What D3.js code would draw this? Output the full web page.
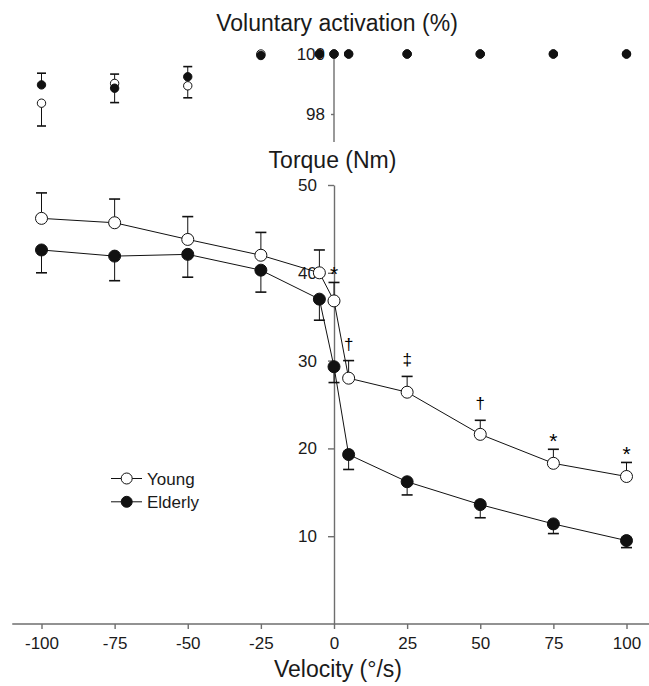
<!DOCTYPE html>
<html>
<head>
<meta charset="utf-8">
<script src="https://cdn.jsdelivr.net/npm/d3@7"></script>
<style>
  html, body { margin: 0; padding: 0; background: #fff; }
  svg { display: block; font-family: "Liberation Sans", Arial, sans-serif; }
  .axis path, .axis line { stroke: #6e6e6e; stroke-width: 1.4; }
  .axis text { font-size: 17px; fill: #1a1a1a; }
  .title { font-size: 23px; fill: #1a1a1a; text-anchor: middle; }
  .conn { fill: none; stroke: #111; stroke-width: 1; }
  .err { stroke: #111; stroke-width: 1; }
  .cap { stroke: #111; stroke-width: 1.6; }
  .mark { font-size: 17px; fill: #000; text-anchor: middle; }
  .mark.star { font-size: 21px; }
  .legend text { font-size: 17px; fill: #1a1a1a; }
</style>
</head>
<body>
<svg id="chart" width="649" height="686"></svg>
<script>
/* velocities (deg/s) shared by both panels */
const velocities = [-100, -75, -50, -25, -5, 0, 5, 25, 50, 75, 100];
const xTicks = [-100, -75, -50, -25, 0, 25, 50, 75, 100];

/* torque (Nm) means and one-sided SE (young drawn up, elderly drawn down) */
const youngTorque   = [46.2, 45.7, 43.8, 42.0, 40.0, 36.8, 28.0, 26.4, 21.6, 18.3, 16.8];
const youngTorqueSE = [2.9, 2.7, 2.6, 2.6, 2.6, 2.1, 2.0, 1.8, 1.6, 1.6, 1.6];
const elderlyTorque   = [42.6, 41.9, 42.1, 40.3, 37.0, 29.3, 19.3, 16.2, 13.6, 11.4, 9.5];
const elderlyTorqueSE = [2.6, 2.8, 2.6, 2.5, 2.4, 1.8, 1.7, 1.5, 1.5, 1.1, 0.8];
const torqueTicks = [10, 20, 30, 40, 50];

/* voluntary activation (%) with signed one-sided SE (0 = no bar) */
const youngAct   = [98.36, 99.02, 98.94, 100, 100, 100, 100, 100, 100, 100, 100];
const youngActSE = [-0.76, 0.31, -0.40, 0, 0, 0, 0, 0, 0, 0, 0];
const elderlyAct   = [98.97, 98.86, 99.24, 99.95, 100, 100, 100, 100, 100, 100, 100];
const elderlyActSE = [0.39, -0.48, 0.34, 0, 0, 0, 0, 0, 0, 0, 0];
const actTicks = [98, 100];

/* significance markers above young torque */
const sigVelocity = [0, 5, 25, 50, 75, 100];
const sigSymbol   = ["*", "\u2020", "\u2021", "\u2020", "*", "*"];

const groups = [
  { name: "Young",   torque: youngTorque,   se: youngTorqueSE,   dir: -1, act: youngAct,   actSE: youngActSE,   fill: "#fff" },
  { name: "Elderly", torque: elderlyTorque, se: elderlyTorqueSE, dir:  1, act: elderlyAct, actSE: elderlyActSE, fill: "#111" },
];

const svg = d3.select("#chart");

const x  = d3.scaleLinear().domain([-100, 100]).range([41.5, 626.5]);
const yT = d3.scaleLinear().domain([0, 50]).range([624, 185]);
const yA = d3.scaleLinear().domain([98, 100]).range([114, 54]);

const plain = d => String(d);   /* hyphen minus, no decimals */

/* ---------- axes ---------- */
const xAxis = svg.append("g")
  .attr("class", "axis")
  .attr("transform", `translate(0,${yT(0)})`)
  .call(d3.axisBottom(x).tickValues(xTicks).tickFormat(plain)
    .tickSize(5).tickSizeOuter(0).tickPadding(8));
xAxis.select(".domain").remove();
xAxis.append("line")
  .attr("x1", x(-110)).attr("x2", x(110))
  .attr("y1", 0).attr("y2", 0);

svg.append("g")
  .attr("class", "axis")
  .attr("transform", `translate(${x(0)},0)`)
  .call(d3.axisLeft(yT).tickValues(torqueTicks).tickFormat(plain)
    .tickSize(6).tickSizeOuter(0).tickPadding(11));

const aAxis = svg.append("g")
  .attr("class", "axis")
  .attr("transform", `translate(${x(0)},0)`)
  .call(d3.axisLeft(yA).tickValues(actTicks).tickFormat(plain)
    .tickSize(3).tickSizeOuter(0).tickPadding(6));
aAxis.select(".domain").remove();
aAxis.append("line")
  .attr("x1", 0).attr("x2", 0)
  .attr("y1", yA(100)).attr("y2", yA(97.07));

/* ---------- titles ---------- */
svg.append("text").attr("class", "title").attr("x", 337).attr("y", 30.5).text("Voluntary activation (%)");
svg.append("text").attr("class", "title").attr("x", 332.5).attr("y", 168).text("Torque (Nm)");
svg.append("text").attr("class", "title").attr("x", 338).attr("y", 677).text("Velocity (\u00B0/s)");

/* ---------- torque panel ---------- */
const line = d3.line().x(d => x(d.v)).y(d => yT(d.t));

groups.forEach(g => {
  const pts = velocities.map((v, i) => ({ v, t: g.torque[i], se: g.se[i] }));
  const layer = svg.append("g");

  layer.append("path").attr("class", "conn").attr("d", line(pts));

  pts.forEach(p => {
    const yEnd = yT(p.t - g.dir * p.se);
    layer.append("line").attr("class", "err")
      .attr("x1", x(p.v)).attr("x2", x(p.v))
      .attr("y1", yT(p.t)).attr("y2", yEnd);
    layer.append("line").attr("class", "cap")
      .attr("x1", x(p.v) - 5.5).attr("x2", x(p.v) + 5.5)
      .attr("y1", yEnd).attr("y2", yEnd);
  });

  layer.selectAll("circle").data(pts).join("circle")
    .attr("cx", d => x(d.v)).attr("cy", d => yT(d.t))
    .attr("r", 6)
    .attr("fill", g.fill).attr("stroke", "#111").attr("stroke-width", 1);
});

/* significance symbols above the young error bars */
sigVelocity.forEach((v, i) => {
  const k = velocities.indexOf(v);
  const top = yT(youngTorque[k] + youngTorqueSE[k]);
  const star = sigSymbol[i] === "*";
  svg.append("text").attr("class", star ? "mark star" : "mark")
    .attr("x", x(v))
    .attr("y", top - (star ? 1 : 11))
    .text(sigSymbol[i]);
});

/* ---------- activation panel ---------- */
groups.forEach(g => {
  const pts = velocities.map((v, i) => ({ v, a: g.act[i], se: g.actSE[i] }));
  const layer = svg.append("g");

  pts.filter(p => p.se !== 0).forEach(p => {
    const yEnd = yA(p.a + p.se);
    layer.append("line").attr("class", "err")
      .attr("x1", x(p.v)).attr("x2", x(p.v))
      .attr("y1", yA(p.a)).attr("y2", yEnd);
    layer.append("line").attr("class", "cap")
      .attr("x1", x(p.v) - 4.5).attr("x2", x(p.v) + 4.5)
      .attr("y1", yEnd).attr("y2", yEnd);
  });

  layer.selectAll("circle").data(pts).join("circle")
    .attr("cx", d => x(d.v)).attr("cy", d => yA(d.a))
    .attr("r", 4.2)
    .attr("fill", g.fill).attr("stroke", "#111").attr("stroke-width", 1);
});

/* ---------- legend ---------- */
const legend = svg.append("g").attr("class", "legend");
groups.forEach((g, i) => {
  const ly = 478.5 + i * 23.3;
  legend.append("line")
    .attr("x1", 111).attr("x2", 142).attr("y1", ly).attr("y2", ly)
    .attr("stroke", "#111").attr("stroke-width", 1);
  legend.append("circle")
    .attr("cx", 126.7).attr("cy", ly).attr("r", 5.5)
    .attr("fill", g.fill).attr("stroke", "#111").attr("stroke-width", 1);
  legend.append("text")
    .attr("x", 147).attr("y", ly + 6.2)
    .text(g.name);
});
</script>
</body>
</html>
